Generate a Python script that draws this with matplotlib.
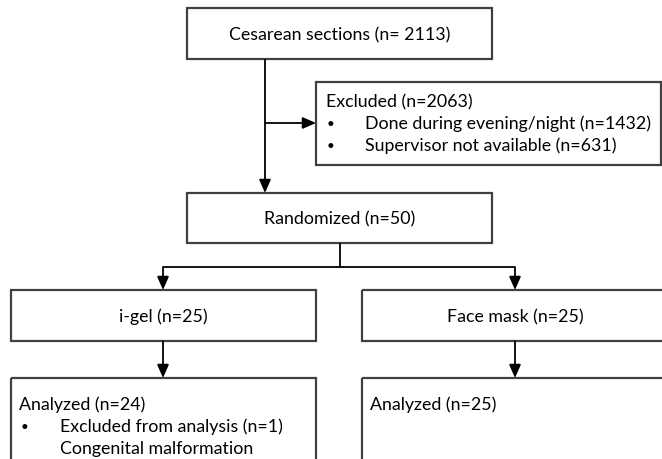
import matplotlib

matplotlib.use('Agg')
import matplotlib.pyplot as plt
from matplotlib.patches import Rectangle

plt.rcParams['font.family'] = ['Lato', 'DejaVu Sans']

# flowchart content
top_label = 'Cesarean sections (n= 2113)'
excluded_title = 'Excluded (n=2063)'
excluded_items = ['Done during evening/night (n=1432)', 'Supervisor not available (n=631)']
random_label = 'Randomized (n=50)'
arm_labels = ['i-gel (n=25)', 'Face mask (n=25)']
analyzed_titles = ['Analyzed (n=24)', 'Analyzed (n=25)']
igel_excl_item = 'Excluded from analysis (n=1)'
igel_excl_note = 'Congenital malformation'

box_col = '#404040'
fs = 12.8

fig = plt.figure(figsize=(6.62, 4.60), dpi=100)
ax = fig.add_axes([0, 0, 1, 1])
ax.set_xlim(0, 662)
ax.set_ylim(460, 0)
ax.set_axis_off()


def box(x0, y0, x1, y1):
    ax.add_patch(Rectangle((x0, y0), x1 - x0, y1 - y0, fill=False,
                           edgecolor=box_col, linewidth=1.6, clip_on=True))


def line(xs, ys):
    ax.plot(xs, ys, color='black', linewidth=1.3, solid_capstyle='butt')


def arrow(x0, y0, x1, y1):
    ax.annotate('', xy=(x1, y1), xytext=(x0, y0),
                arrowprops=dict(arrowstyle='-|>,head_length=0.8,head_width=0.35',
                                color='black', lw=1.3, shrinkA=0, shrinkB=0))


# top box
box(187, 9, 492, 60)
ax.text(339.5, 35, top_label, ha='center', va='center', fontsize=fs)

# excluded box
box(316, 83, 661, 166)
ax.text(326, 102, excluded_title, ha='left', va='center', fontsize=fs)
for i, item in enumerate(excluded_items):
    y = 124 + 22 * i
    ax.text(331, y, '\u2022', ha='center', va='center', fontsize=fs - 3)
    ax.text(365, y, item, ha='left', va='center', fontsize=fs)

line([265, 265], [60, 124])
arrow(265, 124, 316, 124)
arrow(265, 124, 265, 194)

# randomized
box(187, 194, 492, 244)
ax.text(339.5, 219, random_label, ha='center', va='center', fontsize=fs)
line([339.5, 339.5], [244, 268])
line([163, 515], [268, 268])

arm_x = [163, 515]
arm_boxes = [(11, 316), (362, 668)]
for i in range(2):
    x0, x1 = arm_boxes[i]
    arrow(arm_x[i], 268, arm_x[i], 291)
    box(x0, 291, x1, 342)
    ax.text(arm_x[i] + 0.5, 317, arm_labels[i], ha='center', va='center', fontsize=fs)
    arrow(arm_x[i], 342, arm_x[i], 379)
    box(x0, 379, x1, 480)
    ax.text(x0 + 8, 405, analyzed_titles[i], ha='left', va='center', fontsize=fs)

ax.text(24, 427, '\u2022', ha='center', va='center', fontsize=fs - 3)
ax.text(60, 427, igel_excl_item, ha='left', va='center', fontsize=fs)
ax.text(60, 449, igel_excl_note, ha='left', va='center', fontsize=fs)

fig.savefig('out.png', dpi=100, facecolor='white')
